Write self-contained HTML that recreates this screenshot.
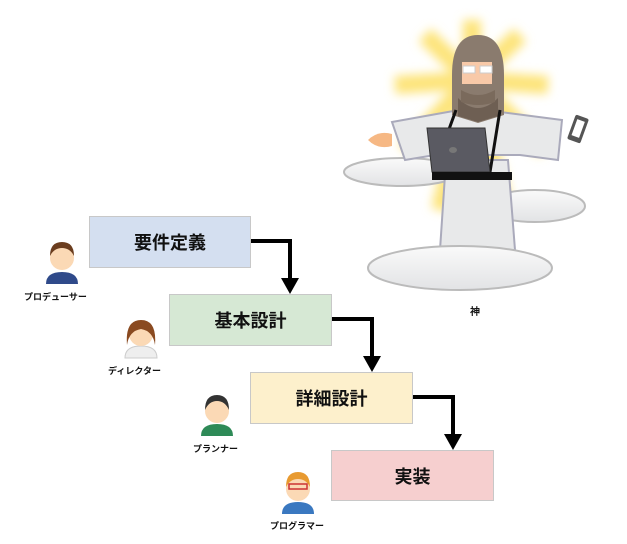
<!DOCTYPE html>
<html><head><meta charset="utf-8"><style>
body{margin:0;width:627px;height:544px;background:#fff;position:relative;overflow:hidden;font-family:"Liberation Sans","Noto Sans CJK JP",sans-serif}
.b{position:absolute;width:160px;height:50px;border:1px solid #c8c8c8;display:flex;align-items:center;justify-content:center;font-size:18px;font-weight:bold;color:#111;box-sizing:border-box}
.l{position:absolute;font-size:9px;font-weight:bold;color:#111;white-space:nowrap}
</style></head><body>
<div class="b" style="left:89px;top:216px;width:162px;height:52px;background:#d4dff0">要件定義</div>
<div class="b" style="left:169px;top:294px;width:163px;height:52px;background:#d6e8d4">基本設計</div>
<div class="b" style="left:250px;top:372px;width:163px;height:52px;background:#fdf0cc">詳細設計</div>
<div class="b" style="left:331px;top:450px;width:163px;height:51px;background:#f6cfcf">実装</div>
<svg width="627" height="544" style="position:absolute;left:0;top:0">
<defs>
<filter id="bl" x="-50%" y="-50%" width="200%" height="200%"><feGaussianBlur stdDeviation="5"/></filter>
<linearGradient id="cl" x1="0" y1="0" x2="0" y2="1"><stop offset="0" stop-color="#fafafa"/><stop offset="1" stop-color="#e2e3e5"/></linearGradient>
</defs>
<g fill="none" stroke="#000" stroke-width="4">
<path d="M251 241H290V280"/><path d="M332 319H372V358"/><path d="M413 397H453V436"/>
</g>
<g fill="#000"><path d="M281 278H299L290 294Z"/><path d="M363 356H381L372 372Z"/><path d="M444 434H462L453 450Z"/></g>
<!-- people -->
<g>
<path d="M46 284q0-12 16-12t16 12z" fill="#2f4a8a"/><circle cx="62" cy="258" r="12" fill="#fbd9b5"/><path d="M50 256q0-14 12-14t12 14q-4-8-12-8t-12 8z" fill="#6b3d1e"/>
<path d="M125 358q0-12 16-12t16 12z" fill="#eee" stroke="#ccc"/><circle cx="141" cy="334" r="12" fill="#fbd9b5"/><path d="M127 345q-2-25 14-25t14 25q-2-14-14-16q-12 2-14 16z" fill="#8a4a20"/>
<path d="M201 436q0-12 16-12t16 12z" fill="#2e8a57"/><circle cx="217" cy="411" r="12" fill="#fbd9b5"/><path d="M205 410q0-15 12-15t12 15q-4-9-12-9t-12 9z" fill="#333"/>
<path d="M282 514q0-12 16-12t16 12z" fill="#3a78c0"/><circle cx="298" cy="489" r="12" fill="#fbd9b5"/><path d="M286 487q0-15 12-15t12 15q-4-8-12-8t-12 8z" fill="#e89a30"/><rect x="289" y="484" width="18" height="5" fill="none" stroke="#c33" stroke-width="1.5"/>
</g>
<!-- god -->
<g>
<g stroke="#fde47a" stroke-width="18" filter="url(#bl)"><path d="M472 80L472 20M472 80L425 35M472 80L520 35M472 80L395 85M472 80L548 85M472 80L405 150M472 80L545 150M472 80L440 210M472 80L505 210"/></g>
<ellipse cx="402" cy="172" rx="58" ry="14" fill="url(#cl)" stroke="#bbb" stroke-width="2"/>
<ellipse cx="535" cy="206" rx="50" ry="16" fill="url(#cl)" stroke="#bbb" stroke-width="2"/>
<path d="M446 160L440 250H515L508 160Z" fill="#e8e9ea" stroke="#aab" stroke-width="2"/>
<path d="M392 122L470 108L562 120L558 160L520 155L435 155L405 160Z" fill="#e8e9ea" stroke="#aab" stroke-width="2"/>
<path d="M368 140q10-10 24-6v12q-14 4-24-6z" fill="#f6b884"/>
<rect x="571" y="116" width="14" height="26" rx="2" fill="#555" transform="rotate(20 578 129)"/>
<rect x="574" y="120" width="8" height="17" fill="#fff" transform="rotate(20 578 129)"/>
<path d="M452 75q0-40 26-40t26 40v40l-26 8-26-8z" fill="#8a7b6e"/>
<path d="M458 98q20 20 40 0v18l-20 6-20-6z" fill="#6e5f53"/>
<rect x="462" y="62" width="30" height="22" fill="#f8c9a8"/>
<rect x="463" y="66" width="12" height="7" fill="#fff" stroke="#ccc"/><rect x="480" y="66" width="12" height="7" fill="#fff" stroke="#ccc"/>
<path d="M461 90q17 10 34 0v12q-17 6-34 0z" fill="#7a6a5c"/>
<path d="M456 110L448 132M500 110L490 172" stroke="#111" stroke-width="3"/>
<path d="M427 128L485 128L490 172L432 172Z" fill="#5a5a62" stroke="#333"/>
<ellipse cx="453" cy="150" rx="4" ry="3" fill="#777"/>
<rect x="432" y="172" width="80" height="8" fill="#111"/>
<ellipse cx="460" cy="268" rx="92" ry="22" fill="url(#cl)" stroke="#bbb" stroke-width="2"/>
</g>
</svg>
<div class="l" style="left:24px;top:290px">プロデューサー</div>
<div class="l" style="left:108px;top:364px">ディレクター</div>
<div class="l" style="left:193px;top:442px">プランナー</div>
<div class="l" style="left:270px;top:519px">プログラマー</div>
<div class="l" style="left:470px;top:303px;font-size:10px">神</div>
</body></html>
